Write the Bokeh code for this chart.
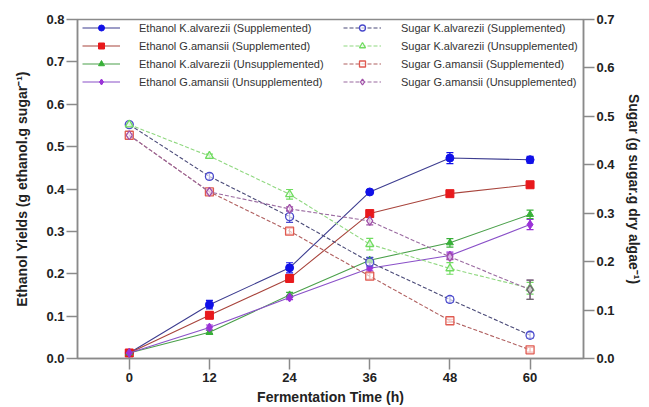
import math
from bokeh.plotting import figure
from bokeh.models import (Range1d, LinearAxis, FixedTicker, NumeralTickFormatter, Legend,
                          LegendItem, Whisker, TeeHead, ColumnDataSource)
from bokeh.embed import file_html
from bokeh.resources import INLINE

# ---------------- data ----------------
time_h = [0, 12, 24, 36, 48, 60]
x_ticks = [0, 12, 24, 36, 48, 60]
left_ticks = [0.0, 0.1, 0.2, 0.3, 0.4, 0.5, 0.6, 0.7, 0.8]
right_ticks = [0.0, 0.1, 0.2, 0.3, 0.4, 0.5, 0.6, 0.7]

eth_k_sup = [0.013, 0.127, 0.214, 0.393, 0.473, 0.469]
eth_k_sup_err = [0.002, 0.010, 0.012, 0.004, 0.013, 0.008]
eth_g_sup = [0.013, 0.102, 0.189, 0.342, 0.389, 0.410]
eth_g_sup_err = [0.002, 0.008, 0.009, 0.007, 0.006, 0.007]
eth_k_unsup = [0.013, 0.062, 0.150, 0.232, 0.273, 0.340]
eth_k_unsup_err = [0.002, 0.005, 0.006, 0.006, 0.010, 0.010]
eth_g_unsup = [0.013, 0.073, 0.144, 0.213, 0.243, 0.316]
eth_g_unsup_err = [0.002, 0.006, 0.005, 0.006, 0.008, 0.012]

sug_k_sup = [0.483, 0.376, 0.293, 0.199, 0.122, 0.048]
sug_k_sup_err = [0.003, 0.006, 0.012, 0.010, 0.006, 0.006]
sug_k_unsup = [0.483, 0.418, 0.339, 0.236, 0.186, 0.145]
sug_k_unsup_err = [0.003, 0.004, 0.010, 0.012, 0.012, 0.012]
sug_g_sup = [0.461, 0.344, 0.263, 0.170, 0.078, 0.018]
sug_g_sup_err = [0.003, 0.004, 0.006, 0.006, 0.003, 0.005]
sug_g_unsup = [0.461, 0.344, 0.309, 0.284, 0.210, 0.142]
sug_g_unsup_err = [0.003, 0.004, 0.004, 0.008, 0.006, 0.020]

labels_eth = ["Ethanol K.alvarezii (Supplemented)", "Ethanol G.amansii (Supplemented)",
              "Ethanol K.alvarezii (Unsupplemented)", "Ethanol G.amansii (Unsupplemented)"]
labels_sug = ["Sugar K.alvarezii (Supplemented)", "Sugar K.alvarezii (Unsupplemented)",
              "Sugar G.amansii (Supplemented)", "Sugar G.amansii (Unsupplemented)"]

# ---------------- figure ----------------
AX = "#8a8a8a"
TXT = "#222222"
FONT = "Liberation Sans"

p = figure(width=649, height=407, x_range=Range1d(-7.75, 68), y_range=Range1d(0, 0.8),
           output_backend="svg", toolbar_location=None,
           min_border_left=77, min_border_right=66, min_border_top=19, min_border_bottom=48)
p.extra_y_ranges = {"sugar": Range1d(0, 0.7)}
p.xgrid.visible = False
p.ygrid.visible = False
p.outline_line_color = AX
p.outline_line_width = 1.5
p.background_fill_color = "white"
p.border_fill_color = "white"

right_axis = LinearAxis(y_range_name="sugar")
p.add_layout(right_axis, "right")


def style(ax, standoff, label_standoff):
    ax.axis_line_color = AX
    ax.axis_line_width = 1.5
    ax.major_tick_line_color = AX
    ax.major_tick_line_width = 1.5
    ax.major_tick_out = 11
    ax.major_tick_in = 0
    ax.minor_tick_out = 0
    ax.minor_tick_in = 0
    ax.major_label_standoff = standoff
    ax.major_label_text_font = FONT
    ax.major_label_text_font_style = "bold"
    ax.major_label_text_font_size = "13px"
    ax.major_label_text_color = TXT
    ax.axis_label_text_font = FONT
    ax.axis_label_text_font_style = "bold"
    ax.axis_label_text_font_size = "14px"
    ax.axis_label_text_color = TXT
    ax.axis_label_standoff = label_standoff


xa = p.xaxis[0]
ya = p.yaxis[0]
style(xa, 3, 4)
style(ya, 2, 13)
style(right_axis, 2, 8)
xa.ticker = FixedTicker(ticks=x_ticks)
ya.ticker = FixedTicker(ticks=left_ticks)
ya.formatter = NumeralTickFormatter(format="0.0")
right_axis.ticker = FixedTicker(ticks=right_ticks)
right_axis.formatter = NumeralTickFormatter(format="0.0")
xa.axis_label = "Fermentation Time (h)"
ya.axis_label = "Ethanol Yields (g ethanol.g sugar\u207b\u00b9)"
right_axis.axis_label = "Sugar (g sugar.g dry algae\u207b\u00b9)"

# ---------------- series ----------------
eth_series = [
    (eth_k_sup, eth_k_sup_err, "circle", 8, "#1010e8", "#3d3d90"),
    (eth_g_sup, eth_g_sup_err, "square", 8, "#e8191c", "#a8443c"),
    (eth_k_unsup, eth_k_unsup_err, "triangle", 7, "#38b038", "#4aa04a"),
    (eth_g_unsup, eth_g_unsup_err, "diamond", 9, "#9a32d8", "#8a50c8"),
]
sug_series = [
    (sug_k_sup, sug_k_sup_err, "circle", 8, "#4a4acc", "#4a4a78"),
    (sug_k_unsup, sug_k_unsup_err, "triangle", 8, "#70dc60", "#90d880"),
    (sug_g_sup, sug_g_sup_err, "square", 8, "#e05a50", "#b06060"),
    (sug_g_unsup, sug_g_unsup_err, "diamond", 9, "#a050a8", "#9a6aa0"),
]

eth_items = []
for (vals, errs, mk, sz, mc, lc), lab in zip(eth_series, labels_eth):
    src = ColumnDataSource(dict(x=time_h, y=vals,
                                lo=[v - e for v, e in zip(vals, errs)],
                                hi=[v + e for v, e in zip(vals, errs)]))
    p.add_layout(Whisker(source=src, base="x", lower="lo", upper="hi", line_color=mc,
                         line_width=1.2,
                         upper_head=TeeHead(size=7, line_color=mc, line_width=1.2),
                         lower_head=TeeHead(size=7, line_color=mc, line_width=1.2)))
    lr = p.line("x", "y", source=src, line_color=lc, line_width=1.1)
    mr = p.scatter("x", "y", source=src, marker=mk, size=sz, fill_color=mc, line_color=mc)
    eth_items.append(LegendItem(label=lab, renderers=[lr, mr]))

sug_items = []
for (vals, errs, mk, sz, mc, lc), lab in zip(sug_series, labels_sug):
    src = ColumnDataSource(dict(x=time_h, y=vals,
                                lo=[v - e for v, e in zip(vals, errs)],
                                hi=[v + e for v, e in zip(vals, errs)]))
    p.add_layout(Whisker(source=src, base="x", lower="lo", upper="hi", line_color=mc,
                         line_width=1.2, y_range_name="sugar",
                         upper_head=TeeHead(size=7, line_color=mc, line_width=1.2),
                         lower_head=TeeHead(size=7, line_color=mc, line_width=1.2)))
    lr = p.line("x", "y", source=src, line_color=lc, line_width=1.1, line_dash="4 2",
                y_range_name="sugar")
    mr = p.scatter("x", "y", source=src, marker=mk, size=sz, fill_color="white",
                   fill_alpha=0.6, line_color=mc, line_width=1.3, y_range_name="sugar")
    sug_items.append(LegendItem(label=lab, renderers=[lr, mr]))

# overlapping end point (rendered grey in the original)
last = ColumnDataSource(dict(x=time_h[-1:], y=sug_g_unsup[-1:],
                             lo=[sug_g_unsup[-1] - sug_g_unsup_err[-1]],
                             hi=[sug_g_unsup[-1] + sug_g_unsup_err[-1]]))
p.add_layout(Whisker(source=last, base="x", lower="lo", upper="hi", line_color="#6e6e6e",
                     line_width=1.3, y_range_name="sugar",
                     upper_head=TeeHead(size=7, line_color="#6e6e6e", line_width=1.3),
                     lower_head=TeeHead(size=7, line_color="#6e6e6e", line_width=1.3)))
p.scatter("x", "y", source=last, marker="diamond", size=9, fill_color="#cfcfcf",
          line_color="#6e6e6e", line_width=1.3, y_range_name="sugar")

LEG_H = 2 * 2 + 4 * 15 + 3 * 3


def make_legend(items, x, standoff):
    return Legend(items=items, location=(x, 340 - LEG_H), orientation="vertical",
                  glyph_width=38, glyph_height=15, label_height=15, spacing=3,
                  padding=2, margin=0, label_standoff=standoff,
                  label_text_font=FONT, label_text_font_size="11px",
                  label_text_color="#333333", background_fill_alpha=0,
                  border_line_alpha=0)


p.add_layout(make_legend(eth_items, 3, 19))
p.add_layout(make_legend(sug_items, 264, 20))

open("out.html", "w").write(file_html(p, INLINE))
